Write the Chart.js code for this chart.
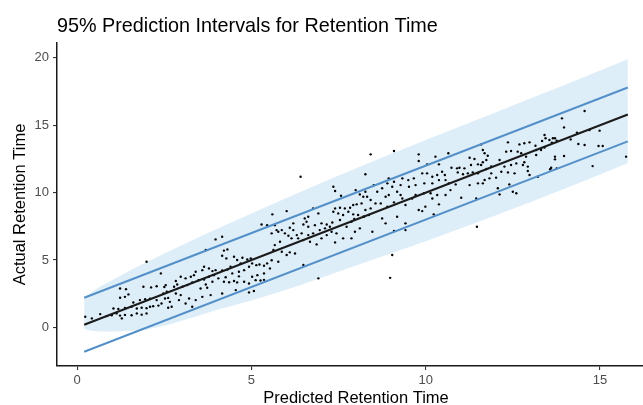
<!DOCTYPE html>
<html><head><meta charset="utf-8">
<script src="https://cdn.jsdelivr.net/npm/chart.js@4.4.0/dist/chart.umd.min.js"></script>
<style>
html,body{margin:0;padding:0;background:#fff;overflow:hidden;width:643px;height:405px}
#wrap{position:absolute;left:0;top:0;width:670px;height:405px}
</style>
</head><body><div id="wrap"><canvas id="c" width="670" height="405"></canvas></div>
<script>
const chartTitle = '95% Prediction Intervals for Retention Time';
const xAxisTitle = 'Predicted Retention Time';
const yAxisTitle = 'Actual Retention Time';
const xTicks = [0, 5, 10, 15];
const yTicks = [0, 5, 10, 15, 20];

const predicted = [
 1.99,2.40,2.54,1.23,1.40,1.90,2.12,2.28,2.50,1.23,
 1.37,1.47,1.61,1.80,1.95,2.09,2.28,2.52,2.61,2.66,
 2.71,2.61,1.04,1.18,1.37,1.56,1.71,1.85,1.99,2.09,
 2.18,2.33,2.42,0.99,1.13,1.23,1.37,1.56,1.71,1.85,
 1.99,0.42,0.23,0.66,0.85,1.28,2.47,2.57,
 5.29,5.45,3.97,4.16,3.69,4.21,4.31,4.74,4.16,4.28,
 4.50,4.59,4.88,4.98,5.02,5.14,5.23,5.36,5.45,4.93,
 4.79,4.64,4.45,4.31,4.16,3.97,3.88,3.78,3.64,3.59,
 3.40,3.35,3.26,3.11,2.97,2.83,2.87,2.78,3.02,3.16,
 3.30,3.48,3.64,3.69,3.88,4.05,4.21,4.36,4.50,4.59,
 4.79,4.93,5.12,5.26,5.36,3.78,3.92,4.26,4.64,5.02,
 5.17,3.54,3.73,3.83,3.59,3.40,3.21,3.11,2.92,2.83,
 2.97,4.16,4.55,4.93,5.07,3.30,4.40,4.69,5.36,
 6.41,7.35,7.40,7.57,7.99,8.11,8.21,8.16,8.02,7.92,
 7.83,7.68,7.54,7.40,7.35,7.49,7.63,7.78,7.92,8.06,
 8.21,7.95,7.54,7.32,7.16,7.25,7.11,6.92,6.77,6.63,
 6.53,6.58,6.49,6.63,6.82,7.01,6.96,6.77,6.63,6.44,
 6.30,6.20,6.10,6.20,6.01,5.60,5.67,5.77,5.58,5.72,
 5.87,5.96,6.06,6.15,6.34,6.49,6.68,6.87,7.01,7.16,
 7.30,7.44,7.63,7.87,7.97,8.11,5.82,5.67,5.63,5.87,
 6.01,6.10,6.25,5.58,5.77,6.49,6.92,5.53,7.40,7.73,
 7.87,
 9.09,8.42,9.80,10.65,8.27,9.80,10.04,10.38,10.28,10.74,
 10.90,10.47,10.55,10.33,10.19,10.04,9.90,9.96,10.19,10.38,
 10.57,10.66,10.86,10.71,10.57,10.33,10.19,10.14,9.95,9.71,
 9.52,9.66,9.50,9.33,9.28,9.09,9.04,8.94,8.90,9.18,
 9.28,8.94,8.85,8.51,8.27,8.32,8.42,8.56,8.71,8.90,
 9.09,9.42,9.61,9.99,10.38,9.80,9.90,9.18,8.75,8.85,
 9.42,9.09,9.42,8.47,8.42,8.27,8.23,8.37,10.23,9.04,
 9.33,9.71,8.61,8.75,8.98,
 11.59,12.36,12.69,12.83,12.98,13.15,13.41,13.44,13.34,13.55,
 13.65,13.17,13.31,13.41,13.17,11.26,11.40,11.64,11.69,11.78,
 11.74,11.64,11.59,11.50,11.30,11.11,10.97,10.92,11.07,11.21,
 11.35,11.50,11.74,11.88,12.12,12.31,12.45,12.64,12.74,12.88,
 12.83,12.93,12.79,12.60,12.45,12.26,12.17,12.02,11.88,11.83,
 11.69,11.64,11.50,11.26,12.07,12.12,12.40,12.50,12.60,12.93,
 12.98,13.22,13.60,11.45,11.02,11.47,12.55,12.36,
 14.56,13.91,13.97,14.99,14.70,14.34,14.16,13.71,13.76,13.62,
 14.38,14.56,14.96,15.08,13.97,13.71,13.71,14.79,15.75,13.76,
 13.57
];
const actual = [
 4.87,4.01,3.14,2.89,2.84,3.02,2.97,3.06,3.00,2.20,
 2.27,2.45,1.85,2.03,2.10,2.14,2.03,2.15,2.19,1.90,
 1.53,1.46,1.41,1.37,1.44,1.53,1.40,1.46,1.43,1.53,
 1.58,1.62,1.78,0.91,1.04,0.88,0.93,0.90,1.04,0.95,
 1.04,0.67,0.79,0.99,0.84,0.67,2.52,2.65,
 7.64,7.59,6.53,6.73,5.74,5.70,5.79,5.17,5.32,5.12,
 5.24,5.00,5.04,5.12,4.75,4.62,4.67,4.58,4.75,4.50,
 4.25,4.13,4.01,4.29,4.22,4.25,4.18,4.38,4.50,4.25,
 4.13,3.88,3.76,3.64,3.76,3.44,3.19,3.02,3.02,3.14,
 3.34,3.51,3.55,3.19,3.39,3.64,3.39,3.35,3.44,3.34,
 3.39,3.26,3.51,3.48,3.53,3.76,3.88,3.72,3.79,3.76,
 3.88,2.89,2.94,2.40,2.27,2.03,2.15,1.78,2.03,2.52,
 2.40,2.52,2.77,2.60,2.70,1.53,4.50,4.75,4.01,
 11.18,10.44,10.12,9.77,10.19,9.87,9.70,9.20,9.13,9.08,
 8.88,8.83,8.88,8.83,8.58,8.46,8.34,8.58,8.39,8.34,
 8.21,8.04,7.97,7.79,7.64,7.47,7.35,8.46,8.83,8.21,
 8.09,7.84,7.64,7.47,7.59,7.72,7.22,6.98,6.85,6.98,
 6.85,7.22,7.40,7.72,8.63,8.39,7.59,7.10,6.98,7.22,
 7.22,6.98,6.80,6.61,6.61,6.48,6.36,6.16,6.61,6.85,
 7.10,6.98,6.61,6.61,7.10,7.35,6.36,6.11,5.74,5.62,
 5.37,5.57,5.49,4.99,4.87,4.63,3.64,4.38,6.31,7.47,
 7.84,
 13.09,12.84,12.84,12.92,11.36,12.35,12.10,12.10,12.67,11.85,
 11.80,11.55,11.31,11.31,11.18,11.43,11.43,10.69,10.69,10.93,
 10.93,10.69,10.61,10.19,9.82,9.82,9.57,9.95,9.95,9.82,
 10.44,11.06,10.93,11.06,10.56,10.81,10.44,11.06,10.69,10.07,
 9.82,9.82,9.70,10.56,10.07,9.70,9.45,9.20,9.20,8.96,
 9.28,9.08,9.57,8.96,9.13,8.71,8.63,8.21,8.09,7.72,
 7.72,7.15,7.22,7.10,8.83,8.71,8.21,8.34,8.39,5.37,
 9.57,10.56,10.07,10.32,3.68,
 13.58,13.73,13.58,13.66,13.73,13.48,14.28,14.03,13.83,13.90,
 14.03,13.16,13.16,13.34,12.79,12.59,12.49,13.16,12.92,12.74,
 12.42,12.25,12.05,12.10,12.05,11.80,11.85,11.50,11.36,11.43,
 11.50,11.43,11.75,11.95,12.42,13.04,13.09,13.04,12.92,12.67,
 12.25,11.93,12.05,12.17,12.05,11.93,11.55,11.11,11.43,11.06,
 10.94,10.69,10.69,10.56,10.32,9.87,10.61,10.07,9.95,11.60,
 11.31,11.18,11.85,9.57,9.62,7.47,11.43,11.50,
 16.06,15.51,14.84,14.60,14.65,14.45,13.95,14.03,13.85,13.71,
 13.61,13.53,13.46,13.46,12.72,12.67,12.47,11.97,12.67,11.80,
 11.73
];

const fitX = [0.2, 15.8];
const fitY = [0.2, 15.8];
const piUpperY = [2.2, 17.8];
const piLowerY = [-1.8, 13.8];

const bandX     = [0.2, 0.4, 0.7, 1.0, 1.5, 2.0, 3.0, 4.0, 5.0, 6.0, 8.0, 10.0, 12.0, 14.0, 15.8];
const bandUpper = [2.2, 2.6, 3.1, 3.5, 4.2, 4.85, 6.1, 7.3, 8.45, 9.6, 11.8, 13.9, 15.95, 18.0, 19.9];
const bandLower = [-0.1, -0.25, -0.3, -0.3, -0.25, -0.15, 0.5, 1.3, 2.0, 2.8, 4.6, 6.4, 8.3, 10.3, 12.2];

const toXY = (xs, ys) => xs.map((x, i) => ({x: x, y: ys[i]}));
const FONT = '"Liberation Sans", Arial, sans-serif';

const titlePlugin = {
  id: 'plotTitle',
  afterDraw(chart) {
    const ctx = chart.ctx;
    ctx.save();
    ctx.font = '19.8px ' + FONT;
    ctx.fillStyle = '#000';
    ctx.textBaseline = 'alphabetic';
    ctx.textAlign = 'left';
    ctx.fillText(chartTitle, chart.chartArea.left, 31.5);
    ctx.restore();
  }
};

const axisCommon = {
  type: 'linear',
  grid: {display: true, drawOnChartArea: false, drawTicks: true, tickLength: 4, color: '#333', lineWidth: 1.1},
  border: {display: true, color: '#1a1a1a', width: 1.5},
};

new Chart(document.getElementById('c'), {
  type: 'scatter',
  data: {
    datasets: [
      {label: 'fit', data: toXY(fitX, fitY), showLine: true, borderColor: '#1a1a1a', borderWidth: 2, pointRadius: 0, order: 0},
      {label: 'upper PI', data: toXY(fitX, piUpperY), showLine: true, borderColor: '#5490c8', borderWidth: 2, pointRadius: 0, order: 1},
      {label: 'lower PI', data: toXY(fitX, piLowerY), showLine: true, borderColor: '#5490c8', borderWidth: 2, pointRadius: 0, order: 1},
      {label: 'observed', data: toXY(predicted, actual), pointRadius: 1.2, pointBackgroundColor: '#000', pointBorderWidth: 0, borderWidth: 0, order: 2},
      {label: 'band upper', data: toXY(bandX, bandUpper), showLine: true, borderColor: 'rgba(0,0,0,0)', borderWidth: 1, pointRadius: 0,
       backgroundColor: 'rgb(222,238,249)', fill: '+1', cubicInterpolationMode: 'monotone', order: 3},
      {label: 'band lower', data: toXY(bandX, bandLower), showLine: true, borderColor: 'rgba(0,0,0,0)', borderWidth: 1, pointRadius: 0,
       fill: false, cubicInterpolationMode: 'monotone', order: 4}
    ]
  },
  options: {
    responsive: false,
    animation: false,
    devicePixelRatio: 1,
    layout: {padding: {left: 0, top: 43, right: 15, bottom: 0}},
    plugins: {legend: {display: false}, tooltip: {enabled: false}, title: {display: false}},
    scales: {
      x: Object.assign({}, axisCommon, {
        min: -0.58, max: 16.58,
        afterBuildTicks: a => { a.ticks = xTicks.map(v => ({value: v})); },
        afterFit: a => { a.height = 39; },
        ticks: {color: '#4d4d4d', font: {family: FONT, size: 13}, padding: 3, maxRotation: 0, autoSkip: false},
        title: {display: true, text: xAxisTitle, color: '#000', font: {family: FONT, size: 16.5}, padding: {top: 0, bottom: -3.5}}
      }),
      y: Object.assign({}, axisCommon, {
        min: -2.86, max: 21.1,
        afterBuildTicks: a => { a.ticks = yTicks.map(v => ({value: v})); },
        afterFit: a => { a.width = 57; },
        ticks: {color: '#4d4d4d', font: {family: FONT, size: 13}, padding: 4, autoSkip: false},
        title: {display: true, text: yAxisTitle, color: '#000', font: {family: FONT, size: 16.5}, padding: {top: 10.5, bottom: 0}}
      })
    }
  },
  plugins: [titlePlugin]
});
</script>
</body></html>
